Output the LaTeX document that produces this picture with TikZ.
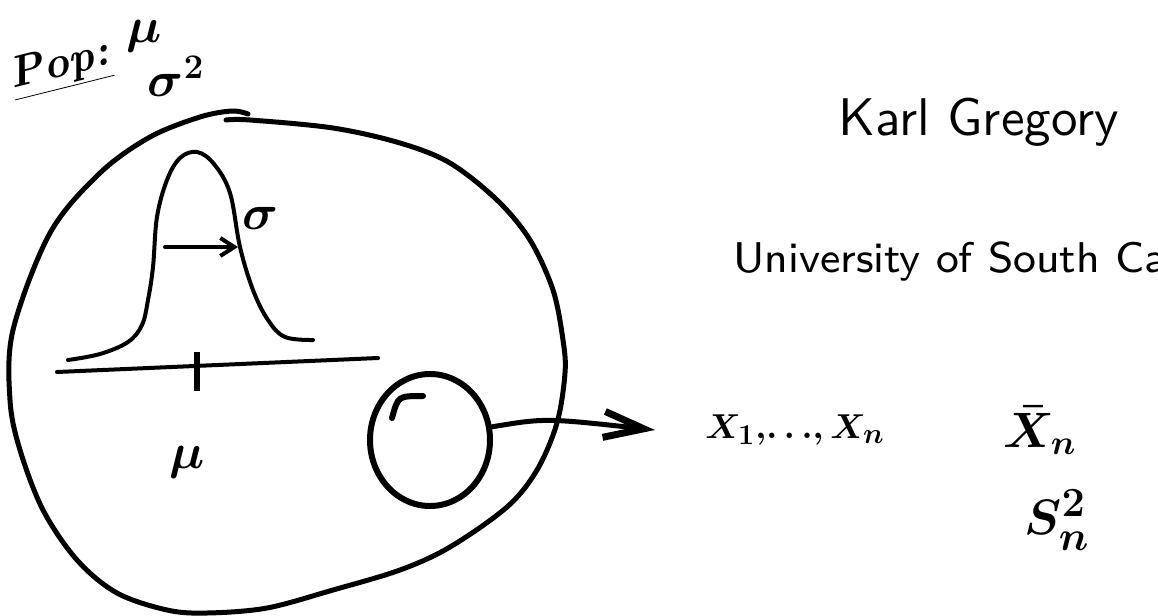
\documentclass[tikz,border=0pt]{standalone}
\usepackage{fontspec}
\usetikzlibrary{arrows.meta,shapes.geometric,positioning}
\newfontfamily\authorfont{lmsans10-regular.otf}
\newfontfamily\instfont{lmsans8-regular.otf}
\begin{document}
\begin{tikzpicture}[x=0.5pt,y=-0.5pt,
  ink/.style={line width=2.5pt,line cap=round,line join=round},
  thin ink/.style={line width=2pt,line cap=round,line join=round},
  pen/.style={font={\fontsize{#1}{#1}\selectfont\bfseries\boldmath},inner sep=0pt},
  slide/.style={anchor=base west,inner sep=0pt}]
\useasboundingbox (0,0) rectangle (1158,616);
\clip (0,0) rectangle (1158,616);
\node[slide,font=\authorfont\fontsize{26.5}{30}\selectfont] (author) at (838,135) {Karl Gregory};
\node[slide,font=\instfont\fontsize{21.5}{24}\selectfont] (inst) at (733,272) {University of South Carolina};
\node[slide,font=\authorfont\fontsize{22}{26}\selectfont] (bottom) at (106,651) {The sample mean and the sample variance};
\node[pen=22pt,rotate=14] (pop) at (60,68) {\itshape\underline{Pop:}};
\node[pen=36pt] (popmu) at (144,36) {$\mu$};
\node[pen=26pt] (popsig) at (176,76) {$\sigma^2$};
\draw[ink] plot[smooth,tension=0.55] coordinates {(226,120) (250,120) (333,128) (400,143) (450,163) (497,200) (530,240) (553,290) (563,340) (565,373) (557,423) (537,470) (507,507) (450,547) (400,570) (333,590) (267,608) (207,613) (167,610) (117,593) (77,560) (43,510) (20,450) (10,400) (13,330) (50,233) (100,173) (150,137) (200,117) (232,111) (248,114)};
\draw[thin ink] plot[smooth,tension=0.6] coordinates {(68,360) (100,354) (128,342) (142,325) (148,300) (153,267) (157,217) (167,180) (180,158) (197,152) (214,164) (230,193) (240,247) (253,290) (268,320) (285,337) (313,340)};
\draw[thin ink] (57,372) -- (378,358);
\draw[line width=3pt] (197,352) -- (197,391);
\coordinate (sdfrom) at (165,247);
\coordinate (sdto) at (238,247);
\draw[thin ink,-{Straight Barb[length=7pt,width=9pt]}] (sdfrom) -- (sdto);
\node[pen=26pt] (sdlabel) at (260,218) {$\sigma$};
\node[pen=50pt] (mulabel) at (187,462) {$\mu$};
\node[draw,ellipse,line width=3pt,minimum width=60pt,minimum height=66pt,inner sep=0pt] (sample) at (430,440) {};
\draw[line width=3pt,line cap=round] (392,418) .. controls (398,396) .. (423,396);
\node[pen=19pt] (xs) at (795,430) {$X_1,\!\dots\!,X_n$};
\node[pen=24pt] (xbar) at (1040,430) {$\bar{X}_n$};
\node[pen=28pt] (svar) at (1057,520) {$S_n^2$};
\draw[ink,-{Straight Barb[length=20pt,width=13pt,line width=3.5pt]}] (sample.12) .. controls (545,418) .. ([xshift=-25pt]xs.west);
\end{tikzpicture}
\end{document}
